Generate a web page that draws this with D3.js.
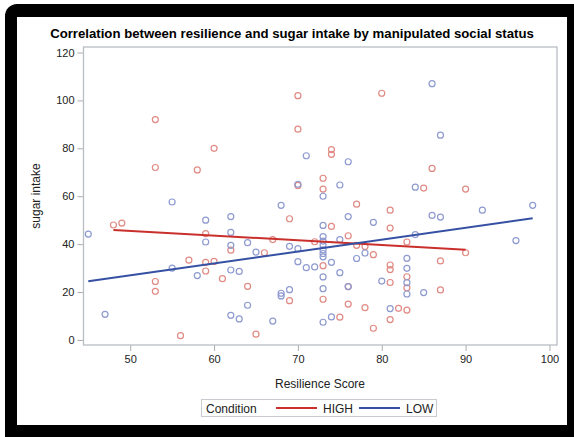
<!DOCTYPE html>
<html>
<head>
<meta charset="utf-8">
<script src="https://cdn.jsdelivr.net/npm/d3@7"></script>
<style>
  body { margin: 0; background: #fff; }
  svg { display: block; font-family: "Liberation Sans", Arial, sans-serif; }
</style>
</head>
<body>
<svg id="chart" width="574" height="437"></svg>
<script>
// sugar intake vs resilience, HIGH condition
const highPoints = [
  [53,92],[60,80],[53,72],[58,71],[70,102],[80,103],[70,88],[74,79.5],[74,77.5],[73,67.5],
  [70,64.5],[73,63],[86,71.6],[85,63.4],[90,63],[48,48],[49,48.8],[59,44.4],[62,37.5],[57,33.3],
  [59,32.4],[60,32.8],[59,28.8],[61,25.6],[53,24.4],[53,20.3],[56,1.8],[77,56.7],[69,50.6],[81,54.2],
  [74,47.4],[76,43.5],[67,41.9],[72,41],[77,39.5],[78,39],[66,36.4],[79,35.6],[73,31],[64,22.4],
  [76,22.3],[73,17],[69,16.4],[76,15],[78,13.5],[75,9.5],[79,4.9],[65,2.4],[81,46.7],[83,40.9],
  [90,36.4],[87,33],[81,31.3],[81,29.4],[83,26.4],[81,24],[83,21.8],[87,20.9],[82,13.2],[83,12.5],
  [81,8.5]
];
// LOW condition
const lowPoints = [
  [71,76.9],[76,74.4],[70,65],[75,64.7],[73,60],[86,107],[87,85.5],[84,63.8],[55,57.6],[45,44.2],
  [59,50],[59,40.9],[62,51.5],[62,44.9],[62,39.5],[55,30],[58,26.9],[62,29.2],[63,28.6],[47,10.7],
  [62,10.3],[63,8.8],[68,56.2],[76,51.5],[79,49.1],[73,47.8],[73,43.1],[75,41.9],[73,41.3],[64,40.6],
  [73,39.6],[69,39.1],[70,38.1],[65,36.7],[73,37.6],[73,36.1],[78,36.3],[73,34.7],[77,34],[70,32.7],
  [74,32.4],[71,30.2],[72,30.5],[75,28.1],[73,26.3],[80,24.6],[76,22.3],[73,21.4],[69,21],[68,19.5],
  [68,18.4],[64,14.5],[74,9.6],[67,7.9],[73,7.4],[98,56.2],[92,54.2],[86,52],[87,51.3],[84,44],
  [96,41.5],[83,34.1],[83,29.9],[83,23.9],[83,19.2],[85,19.8],[81,13.1]
];
// fitted regression lines (end points)
const highFit = [[48,45.9],[90,37.7]];
const lowFit = [[45,24.5],[98,50.8]];

const xTicks = [50,60,70,80,90,100];
const yTicks = [0,20,40,60,80,100,120];
const groups = ["HIGH","LOW"];
const lineColors = {HIGH: "#c9302c", LOW: "#3651a3"};
const markerColors = {HIGH: "#e08a84", LOW: "#8e9ad0"};

const svg = d3.select("#chart");

// screenshot frame
svg.append("rect").attr("x", 5).attr("y", 4).attr("width", 590).attr("height", 450)
  .attr("rx", 12).attr("fill", "#000");
svg.append("rect").attr("x", 17).attr("y", 17).attr("width", 550).attr("height", 408)
  .attr("fill", "#fff");

const plot = {left: 83.5, right: 557, top: 47, bottom: 345};

const x = d3.scaleLinear().domain([44.43, 100.9]).range([plot.left, plot.right]);
const y = d3.scaleLinear().domain([-2.1, 122.3]).range([plot.bottom, plot.top]);

svg.append("text")
  .attr("x", 292).attr("y", 38)
  .attr("text-anchor", "middle")
  .attr("font-size", 13.2).attr("font-weight", "bold")
  .text("Correlation between resilience and sugar intake by manipulated social status");

// axes
const xAxis = svg.append("g")
  .attr("transform", `translate(0,${plot.bottom})`)
  .call(d3.axisBottom(x).tickValues(xTicks).tickSize(6).tickSizeOuter(0).tickPadding(4));
const yAxis = svg.append("g")
  .attr("transform", `translate(${plot.left},0)`)
  .call(d3.axisLeft(y).tickValues(yTicks).tickSize(6).tickSizeOuter(0).tickPadding(3));

[xAxis, yAxis].forEach(a => {
  a.select(".domain").remove();
  a.selectAll(".tick line").attr("stroke", "#a9adb2");
  a.selectAll(".tick text").attr("fill", "#222").attr("font-size", 11)
    .attr("font-family", "Liberation Sans, Arial, sans-serif");
});

// plot frame
svg.append("rect")
  .attr("x", plot.left).attr("y", plot.top)
  .attr("width", plot.right - plot.left).attr("height", plot.bottom - plot.top)
  .attr("fill", "none").attr("stroke", "#b9bec3").attr("stroke-width", 1.3);

svg.append("text")
  .attr("x", 320).attr("y", 388)
  .attr("text-anchor", "middle").attr("font-size", 12).attr("fill", "#222")
  .text("Resilience Score");
svg.append("text")
  .attr("transform", `translate(40,196) rotate(-90)`)
  .attr("text-anchor", "middle").attr("font-size", 12).attr("fill", "#222")
  .text("sugar intake");

// markers
const drawPoints = (pts, g) => {
  svg.append("g").selectAll("circle")
    .data(pts)
    .join("circle")
      .attr("cx", d => x(d[0]))
      .attr("cy", d => y(d[1]))
      .attr("r", 3)
      .attr("fill", "none")
      .attr("stroke", markerColors[g])
      .attr("stroke-width", 1.2);
};
drawPoints(highPoints, "HIGH");
drawPoints(lowPoints, "LOW");

// fit lines
const line = d3.line().x(d => x(d[0])).y(d => y(d[1]));
svg.append("path").datum(highFit).attr("d", line)
  .attr("fill", "none").attr("stroke", lineColors.HIGH).attr("stroke-width", 2);
svg.append("path").datum(lowFit).attr("d", line)
  .attr("fill", "none").attr("stroke", lineColors.LOW).attr("stroke-width", 2);

// legend
const legend = svg.append("g");
legend.append("rect")
  .attr("x", 201.5).attr("y", 399.5).attr("width", 235).attr("height", 17)
  .attr("fill", "#fff").attr("stroke", "#c8ccd0");
legend.append("text").attr("x", 206).attr("y", 412.5)
  .attr("font-size", 12).attr("fill", "#222").text("Condition");
const legX = {HIGH: 276, LOW: 359};
groups.forEach(g => {
  legend.append("line")
    .attr("x1", legX[g]).attr("x2", legX[g] + 41)
    .attr("y1", 408).attr("y2", 408)
    .attr("stroke", lineColors[g]).attr("stroke-width", 2);
  legend.append("text").attr("x", legX[g] + 47).attr("y", 412.5)
    .attr("font-size", 12).attr("fill", "#222").text(g);
});
</script>
</body>
</html>
